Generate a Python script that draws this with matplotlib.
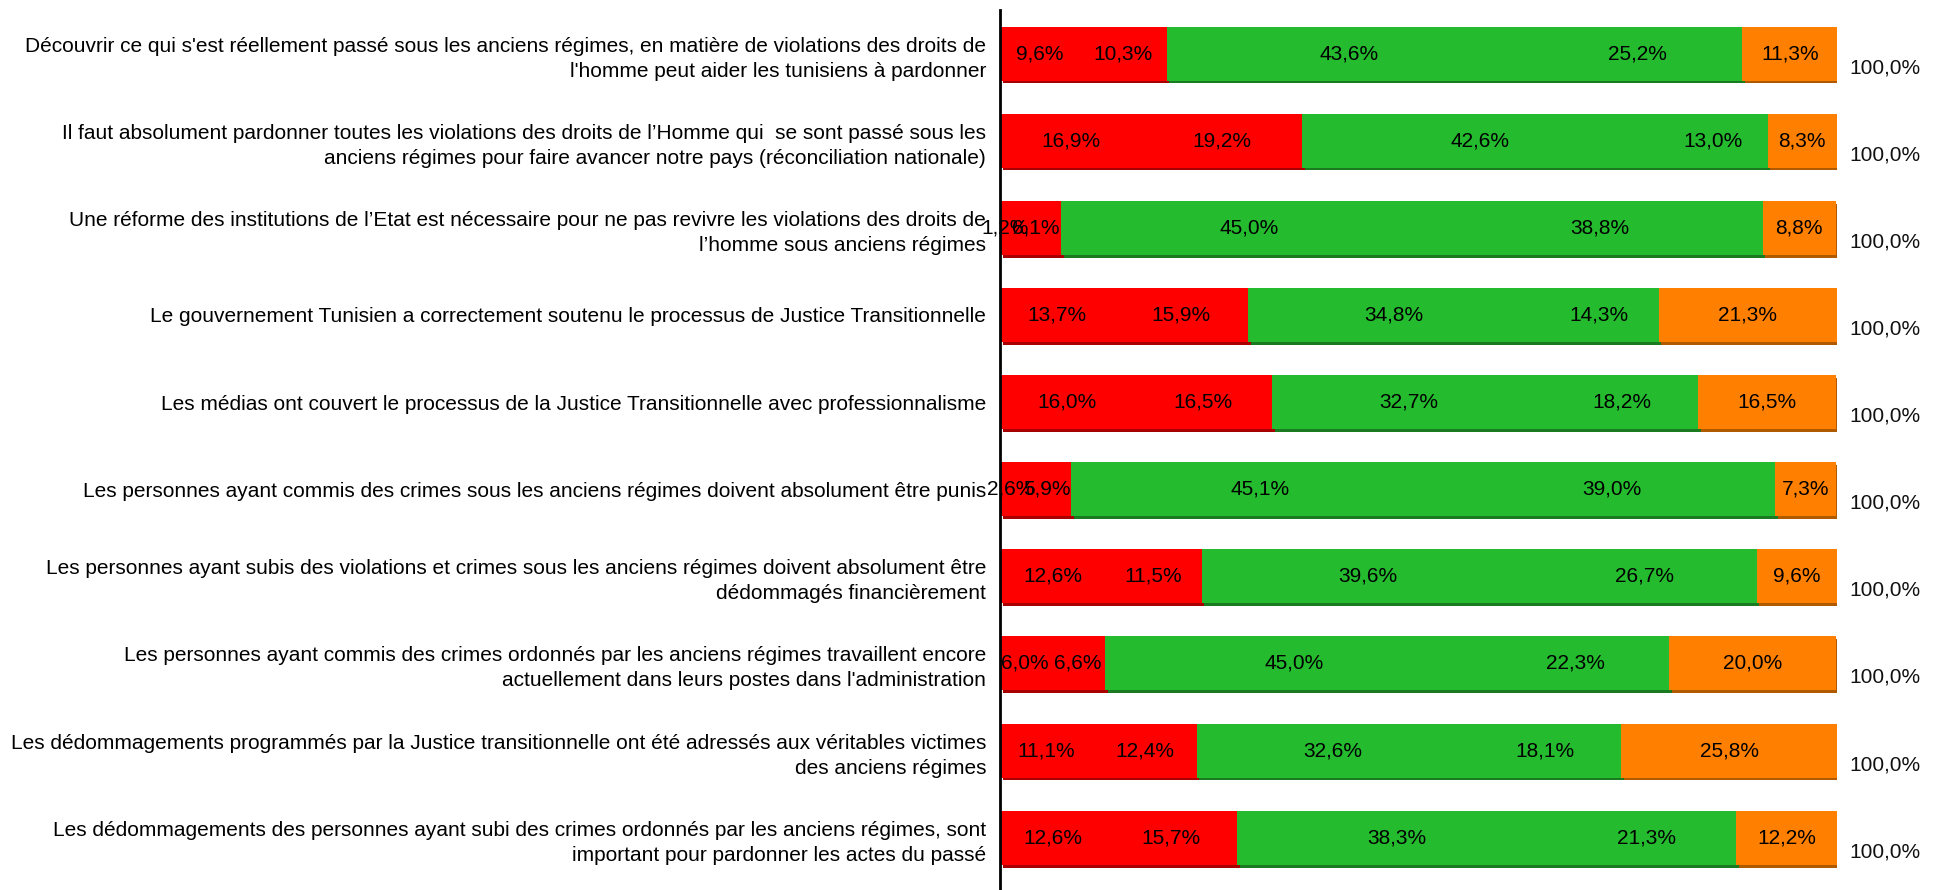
import numpy as np
import matplotlib
matplotlib.use("Agg")
import matplotlib.pyplot as plt
import matplotlib.patheffects as pe

plt.rcParams['font.family'] = ['Liberation Sans', 'DejaVu Sans']

# intitulés des questions (de haut en bas)
questions = [
    "Découvrir ce qui s'est réellement passé sous les anciens régimes, en matière de violations des droits de\nl'homme peut aider les tunisiens à pardonner",
    "Il faut absolument pardonner toutes les violations des droits de l’Homme qui  se sont passé sous les\nanciens régimes pour faire avancer notre pays (réconciliation nationale)",
    "Une réforme des institutions de l’Etat est nécessaire pour ne pas revivre les violations des droits de\nl’homme sous anciens régimes",
    "Le gouvernement Tunisien a correctement soutenu le processus de Justice Transitionnelle",
    "Les médias ont couvert le processus de la Justice Transitionnelle avec professionnalisme",
    "Les personnes ayant commis des crimes sous les anciens régimes doivent absolument être punis",
    "Les personnes ayant subis des violations et crimes sous les anciens régimes doivent absolument être\ndédommagés financièrement",
    "Les personnes ayant commis des crimes ordonnés par les anciens régimes travaillent encore\nactuellement dans leurs postes dans l'administration",
    "Les dédommagements programmés par la Justice transitionnelle ont été adressés aux véritables victimes\ndes anciens régimes",
    "Les dédommagements des personnes ayant subi des crimes ordonnés par les anciens régimes, sont\nimportant pour pardonner les actes du passé",
]

# réponses en % : pas du tout d'accord, plutôt pas d'accord, plutôt d'accord, tout à fait d'accord, sans avis
pas_du_tout = [9.6, 16.9, 1.2, 13.7, 16.0, 2.6, 12.6, 6.0, 11.1, 12.6]
plutot_pas = [10.3, 19.2, 6.1, 15.9, 16.5, 5.9, 11.5, 6.6, 12.4, 15.7]
plutot_oui = [43.6, 42.6, 45.0, 34.8, 32.7, 45.1, 39.6, 45.0, 32.6, 38.3]
tout_a_fait = [25.2, 13.0, 38.8, 14.3, 18.2, 39.0, 26.7, 22.3, 18.1, 21.3]
sans_avis = [11.3, 8.3, 8.8, 21.3, 16.5, 7.3, 9.6, 20.0, 25.8, 12.2]
totaux = [100.0] * 10

series = [pas_du_tout, plutot_pas, plutot_oui, tout_a_fait, sans_avis]
couleurs = ["#FF0000", "#FF0000", "#24BC2E", "#24BC2E", "#FF8000"]
ombres = ["#A80000", "#A80000", "#1A7A20", "#1A7A20", "#B05A00"]

def fmt(v):
    return ("%.1f%%" % v).replace(".", ",")

fig = plt.figure(figsize=(19.35, 8.9), dpi=100)
ax = fig.add_axes([1000 / 1935, 0.0, 837 / 1935, 880 / 890])

y = np.arange(len(questions))
gauche = np.zeros(len(questions))
for vals, c, s in zip(series, couleurs, ombres):
    vals = np.array(vals)
    bars = ax.barh(y, vals, left=gauche, height=0.62, color=c, edgecolor="none")
    for b in bars:
        b.set_path_effects([pe.SimplePatchShadow(offset=(2, -2), shadow_rgbFace=s, alpha=1),
                            pe.Normal()])
    for yi, l, v in zip(y, gauche, vals):
        ax.text(l + v / 2, yi, fmt(v), ha="center", va="center", fontsize=15, color="black")
    gauche += vals

for yi, t in zip(y, totaux):
    ax.text(101.5, yi + 0.16, fmt(t), ha="left", va="center", fontsize=15, color="#111111")

ax.set_xlim(0, 100)
ax.set_ylim(len(questions) - 0.5 + 0.1, -0.5)
ax.set_yticks(y)
ax.set_yticklabels(questions, fontsize=15, linespacing=1.4)
ax.tick_params(axis="y", length=0, pad=10)
ax.set_xticks([])
for side in ["top", "right", "bottom"]:
    ax.spines[side].set_visible(False)
ax.spines["left"].set_linewidth(2)
ax.spines["left"].set_color("black")

fig.savefig("out.png", dpi=100)
